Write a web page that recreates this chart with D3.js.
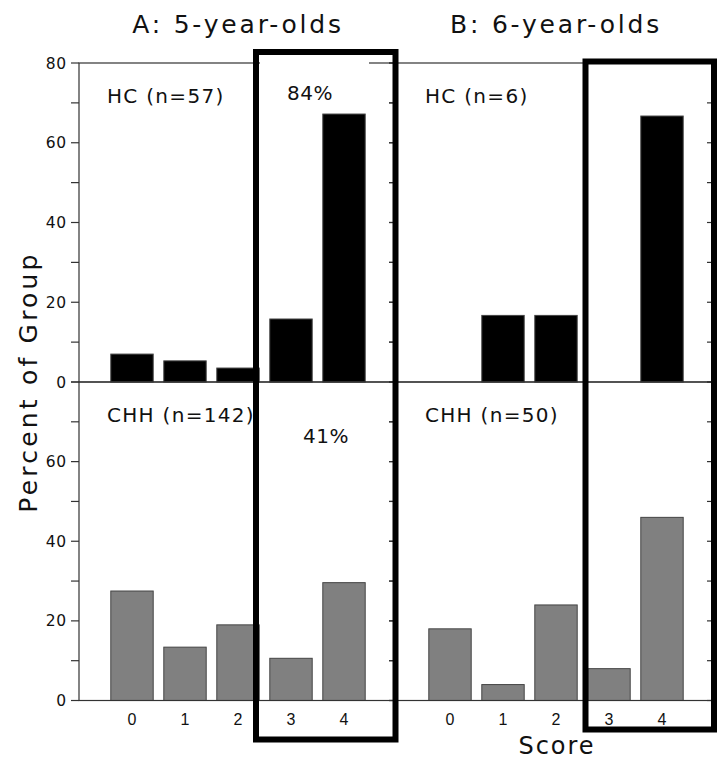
<!DOCTYPE html>
<html>
<head>
<meta charset="utf-8">
<script src="https://cdn.jsdelivr.net/npm/d3@7"></script>
<style>
  body { margin: 0; background: #fff; }
  svg { display: block; font-family: "DejaVu Sans", sans-serif; }
</style>
</head>
<body>
<svg id="chart"></svg>
<script>
const width = 717;
const height = 761;

// data (percent of group per score)
const scores = [0, 1, 2, 3, 4];
const hc5 = [7.0, 5.3, 3.5, 15.8, 67.2];
const chh5 = [27.5, 13.4, 19.0, 10.6, 29.6];
const hc6 = [0, 16.7, 16.7, 0, 66.7];
const chh6 = [18.0, 4.0, 24.0, 8.0, 46.0];

const columnTitles = ["A: 5-year-olds", "B: 6-year-olds"];
const topLabels = ["HC (n=57)", "HC (n=6)"];
const bottomLabels = ["CHH (n=142)", "CHH (n=50)"];
const topTicks = [0, 20, 40, 60, 80];
const bottomTicks = [0, 20, 40, 60];
const minorTicks = d3.range(0, 81, 10);

const svg = d3.select("#chart")
    .attr("width", width)
    .attr("height", height);

const yTop = d3.scaleLinear().domain([0, 80]).range([382, 63]);
const yBot = d3.scaleLinear().domain([0, 80]).range([700.5, 382]);
const xLeft = d3.scaleLinear().domain([-1, 5]).range([79, 397]);
const xRight = d3.scaleLinear().domain([-1, 5]).range([397, 715]);

const frame = "#333";
const barW = 0.8;

const panels = [
    {x: xLeft, y: yTop, data: hc5, fill: "#000", label: topLabels[0], ticks: topTicks},
    {x: xLeft, y: yBot, data: chh5, fill: "#808080", label: bottomLabels[0], ticks: bottomTicks},
    {x: xRight, y: yTop, data: hc6, fill: "#000", label: topLabels[1], ticks: null},
    {x: xRight, y: yBot, data: chh6, fill: "#808080", label: bottomLabels[1], ticks: null}
];

panels.forEach(p => {
    const g = svg.append("g");
    const [x0, x1] = p.x.range();
    const [y0, y1] = p.y.range();

    g.selectAll("rect.bar")
        .data(p.data.map((v, i) => ({s: scores[i], v})).filter(d => d.v > 0))
        .enter().append("rect")
        .attr("class", "bar")
        .attr("x", d => p.x(d.s - barW / 2))
        .attr("width", d => p.x(d.s + barW / 2) - p.x(d.s - barW / 2))
        .attr("y", d => p.y(d.v))
        .attr("height", d => p.y(0) - p.y(d.v))
        .attr("fill", p.fill)
        .attr("stroke", "#444")
        .attr("stroke-width", 1);

    // frame
    g.append("rect")
        .attr("x", x0).attr("y", y1)
        .attr("width", x1 - x0).attr("height", y0 - y1)
        .attr("fill", "none")
        .attr("stroke", frame)
        .attr("stroke-width", 1.2);

    // ticks: outward on the left, inward on the right
    g.selectAll("line.lt")
        .data(minorTicks)
        .enter().append("line")
        .attr("x1", x0 - 8).attr("x2", x0)
        .attr("y1", d => p.y(d)).attr("y2", d => p.y(d))
        .attr("stroke", frame).attr("stroke-width", 1.2);
    g.selectAll("line.rt")
        .data(minorTicks)
        .enter().append("line")
        .attr("x1", x1 - 8).attr("x2", x1)
        .attr("y1", d => p.y(d)).attr("y2", d => p.y(d))
        .attr("stroke", frame).attr("stroke-width", 1.2);

    if (p.ticks) {
        g.selectAll("text.yt")
            .data(p.ticks)
            .enter().append("text")
            .attr("x", 67)
            .attr("y", d => p.y(d) + 5.5)
            .attr("text-anchor", "end")
            .attr("font-size", 15.5)
            .attr("letter-spacing", 0.8)
            .attr("fill", "#111")
            .text(d => d);
    }

    g.append("text")
        .attr("x", x0 + 28)
        .attr("y", y1 + 40)
        .attr("font-size", 20)
        .attr("letter-spacing", 1.3)
        .attr("fill", "#111")
        .text(p.label);

    if (p.y === yBot) {
        g.selectAll("text.xt")
            .data(scores)
            .enter().append("text")
            .attr("x", d => p.x(d))
            .attr("y", 725)
            .attr("text-anchor", "middle")
            .attr("font-size", 16)
            .attr("font-family", "Liberation Sans, sans-serif")
            .attr("fill", "#111")
            .text(d => d);
    }
});

// white gap in the top border behind the 84% label
svg.append("rect")
    .attr("x", 260).attr("y", 60)
    .attr("width", 109).attr("height", 6)
    .attr("fill", "#fff");

svg.append("text").attr("x", 287).attr("y", 100)
    .attr("font-size", 20).attr("letter-spacing", 0.5).attr("fill", "#111").text("84%");
svg.append("text").attr("x", 303).attr("y", 443)
    .attr("font-size", 20).attr("letter-spacing", 0.5).attr("fill", "#111").text("41%");

// column titles
svg.selectAll("text.title")
    .data(columnTitles)
    .enter().append("text")
    .attr("x", (d, i) => i === 0 ? xLeft(2) : xRight(2))
    .attr("y", 33)
    .attr("text-anchor", "middle")
    .attr("font-size", 25)
    .attr("letter-spacing", 2.8)
    .attr("fill", "#111")
    .text(d => d);

svg.append("text")
    .attr("transform", `translate(37,382) rotate(-90)`)
    .attr("text-anchor", "middle")
    .attr("font-size", 25)
    .attr("letter-spacing", 3.2)
    .attr("fill", "#111")
    .text("Percent of Group");

svg.append("text")
    .attr("x", 557)
    .attr("y", 754)
    .attr("text-anchor", "middle")
    .attr("font-size", 24)
    .attr("letter-spacing", 2)
    .attr("fill", "#111")
    .text("Score");

// highlight boxes around scores 3-4
const boxes = [
    {x0: 256, x1: 395.5, y0: 52, y1: 739.5},
    {x0: 585.5, x1: 714, y0: 61.5, y1: 729.5}
];
svg.selectAll("rect.box")
    .data(boxes)
    .enter().append("rect")
    .attr("x", d => d.x0).attr("y", d => d.y0)
    .attr("width", d => d.x1 - d.x0).attr("height", d => d.y1 - d.y0)
    .attr("fill", "none")
    .attr("stroke", "#000")
    .attr("stroke-width", 6);
</script>
</body>
</html>
